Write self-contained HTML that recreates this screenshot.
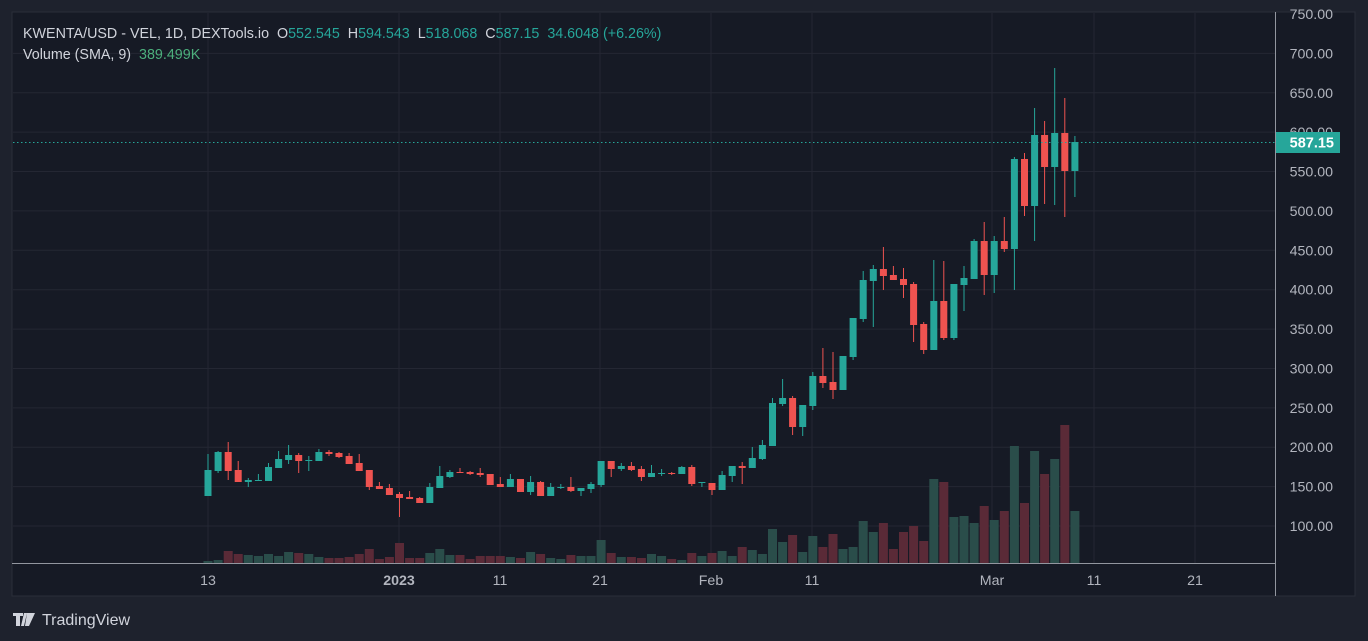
<!DOCTYPE html><html><head><meta charset="utf-8"><style>
body{margin:0;width:1368px;height:641px;background:#1e222d;overflow:hidden;font-family:"Liberation Sans",sans-serif}
svg{position:absolute;left:0;top:0}
</style></head><body>
<svg id="s" width="1368" height="641" xmlns="http://www.w3.org/2000/svg"></svg>
<script>
const C=[
['g',454,470,496,496],['g',451,452,471,473],['r',442,452,471,480],['r',461,470,482,482],['g',478,480,482,487],['g',474,480,481,481],['g',463,467,481,481],['g',451,459,468,468],['g',445,455,460,464],['r',453,455,461,473],
['g',456,460,461,471],['g',449,452,461,461],['r',450,452,454,456],['r',452,453,457,458],['r',453,456,464,464],['r',454,463,471,471],['r',470,470,487,490],['r',482,486,489,489],['r',484,488,495,495],['r',492,494,498,517],
['r',491,497,499,499],['r',497,498,503,503],['g',483,487,503,503],['g',466,476,488,488],['g',470,472,477,478],['r',468,472,473,473],['r',471,472,474,475],['r',468,473,475,477],['r',474,474,485,485],['r',477,484,487,487],
['g',474,479,487,487],['r',479,479,492,492],['g',476,482,492,495],['r',481,482,496,496],['g',483,487,496,496],['g',484,487,488,489],['r',477,487,491,492],['g',488,488,491,496],['g',482,484,489,493],['g',461,461,485,487],
['r',461,461,469,477],['g',463,466,469,471],['r',462,466,470,471],['r',466,469,477,481],['g',465,473,477,477],['g',469,473,474,476],['r',472,473,474,475],['g',466,467,474,474],['r',465,467,484,486],['g',482,482,483,487],
['r',483,483,490,495],['g',471,475,490,490],['g',466,466,476,482],['r',462,466,468,484],['g',447,458,468,468],['g',440,445,459,460],['g',398,403,446,446],['g',379,398,404,406],['r',396,398,427,435],['g',405,405,427,436],
['g',372,376,406,410],['r',348,376,383,388],['r',352,382,390,399],['g',356,356,390,390],['g',318,318,357,360],['g',271,280,319,322],['g',265,269,281,327],['r',247,269,276,290],['r',266,275,280,280],['r',268,279,285,298],
['r',282,284,325,342],['r',322,324,350,354],['g',260,301,350,350],['r',261,301,338,340],['g',284,284,338,340],['g',266,278,285,311],['g',239,241,279,279],['r',222,241,275,295],['g',236,241,275,293],['r',217,241,249,252],
['g',157,159,249,290],['r',153,159,206,216],['g',108,135,206,241],['r',121,135,167,204],['g',68,133,167,205],['r',98,133,171,217],['g',136,142,171,197]];
const V=[561,560,551,554,555,556,554,556,552,553,554,557,558,558,557,554,549,559,557,543,558,558,553,549,555,555,559,556,556,556,557,558,552,554,558,559,555,556,556,540,553,557,557,558,554,556,559,560,553,556,553,551,556,547,550,554,529,542,535,552,536,547,534,549,547,521,532,523,549,532,526,541,479,482,517,516,523,506,520,511,446,503,451,474,459,425,511];
let h='';
h+='<rect x="12" y="12" width="1343" height="584" fill="#161a25" stroke="#2a2e39" stroke-width="1"/>';
const gy=[]; for(let p=750;p>=100;p-=50){gy.push([p,14+(750-p)*0.7877]);}
gy.forEach(([p,y])=>{if(p<750)h+=`<line x1="13" x2="1275" y1="${y}" y2="${y}" stroke="#242733"/>`;});
[208,399,500,600,711,812,992,1094,1195].forEach(x=>h+=`<line x1="${x}" x2="${x}" y1="13" y2="563" stroke="#242733"/>`);
V.forEach((t,i)=>{const x=208+i*10.08;const c=C[i][0]=='g'?'#2a4d4a':'#5a2a37';h+=`<rect x="${(x-4.5).toFixed(1)}" y="${t}" width="9" height="${563-t}" fill="${c}"/>`;});
C.forEach((d,i)=>{const x=208+i*10.08;const c=d[0]=='g'?'#26a69a':'#ef5350';
h+=`<line x1="${x.toFixed(1)}" x2="${x.toFixed(1)}" y1="${d[1]}" y2="${d[4]}" stroke="${c}" stroke-width="1"/>`;
h+=`<rect x="${(x-3.5).toFixed(1)}" y="${d[2]}" width="7" height="${Math.max(1,d[3]-d[2])}" fill="${c}"/>`;});
h+='<line x1="13" x2="1275" y1="142.5" y2="142.5" stroke="#26a69a" stroke-dasharray="1.5 2.5"/>';
h+='<line x1="1275.5" x2="1275.5" y1="12" y2="596" stroke="#b2b5be" stroke-opacity="0.8"/>';
h+='<line x1="12" x2="1275" y1="563.5" y2="563.5" stroke="#b2b5be" stroke-opacity="0.8"/>';
gy.forEach(([p,y])=>{h+=`<text x="1333" y="${y+5}" fill="#b2b5be" font-size="14.2" text-anchor="end">${p}.00</text>`;});
h+='<rect x="1276" y="132" width="64" height="21" fill="#26a69a"/><text x="1334" y="147.5" fill="#fff" font-size="14.5" font-weight="bold" text-anchor="end">587.15</text>';
[[208,'13'],[399,'2023'],[500,'11'],[600,'21'],[711,'Feb'],[812,'11'],[992,'Mar'],[1094,'11'],[1195,'21']].forEach(([x,t])=>h+=`<text x="${x}" y="585" fill="#b2b5be" font-size="14.2" text-anchor="middle"${t=='2023'?' font-weight="bold"':''}>${t}</text>`);
h+='<text x="23" y="38" font-size="14.3" fill="#d1d4dc" xml:space="preserve">KWENTA/USD - VEL, 1D, DEXTools.io  O<tspan fill="#26a69a">552.545</tspan>  H<tspan fill="#26a69a">594.543</tspan>  L<tspan fill="#26a69a">518.068</tspan>  C<tspan fill="#26a69a">587.15</tspan>  <tspan fill="#26a69a">34.6048 (+6.26%)</tspan></text>';
h+='<text x="23" y="59" font-size="14.3" fill="#d1d4dc" xml:space="preserve">Volume (SMA, 9)  <tspan fill="#4caf7c">389.499K</tspan></text>';
h+='<path d="M13 613h10v3h-3v10h-4v-10h-3z M24 613h3l-3 13h-3z M27 613h8l-6 13h-4z" fill="#d1d4dc"/>';
h+='<text x="42" y="625" font-size="16" fill="#d1d4dc">TradingView</text>';
document.getElementById('s').innerHTML=h;
</script></body></html>
